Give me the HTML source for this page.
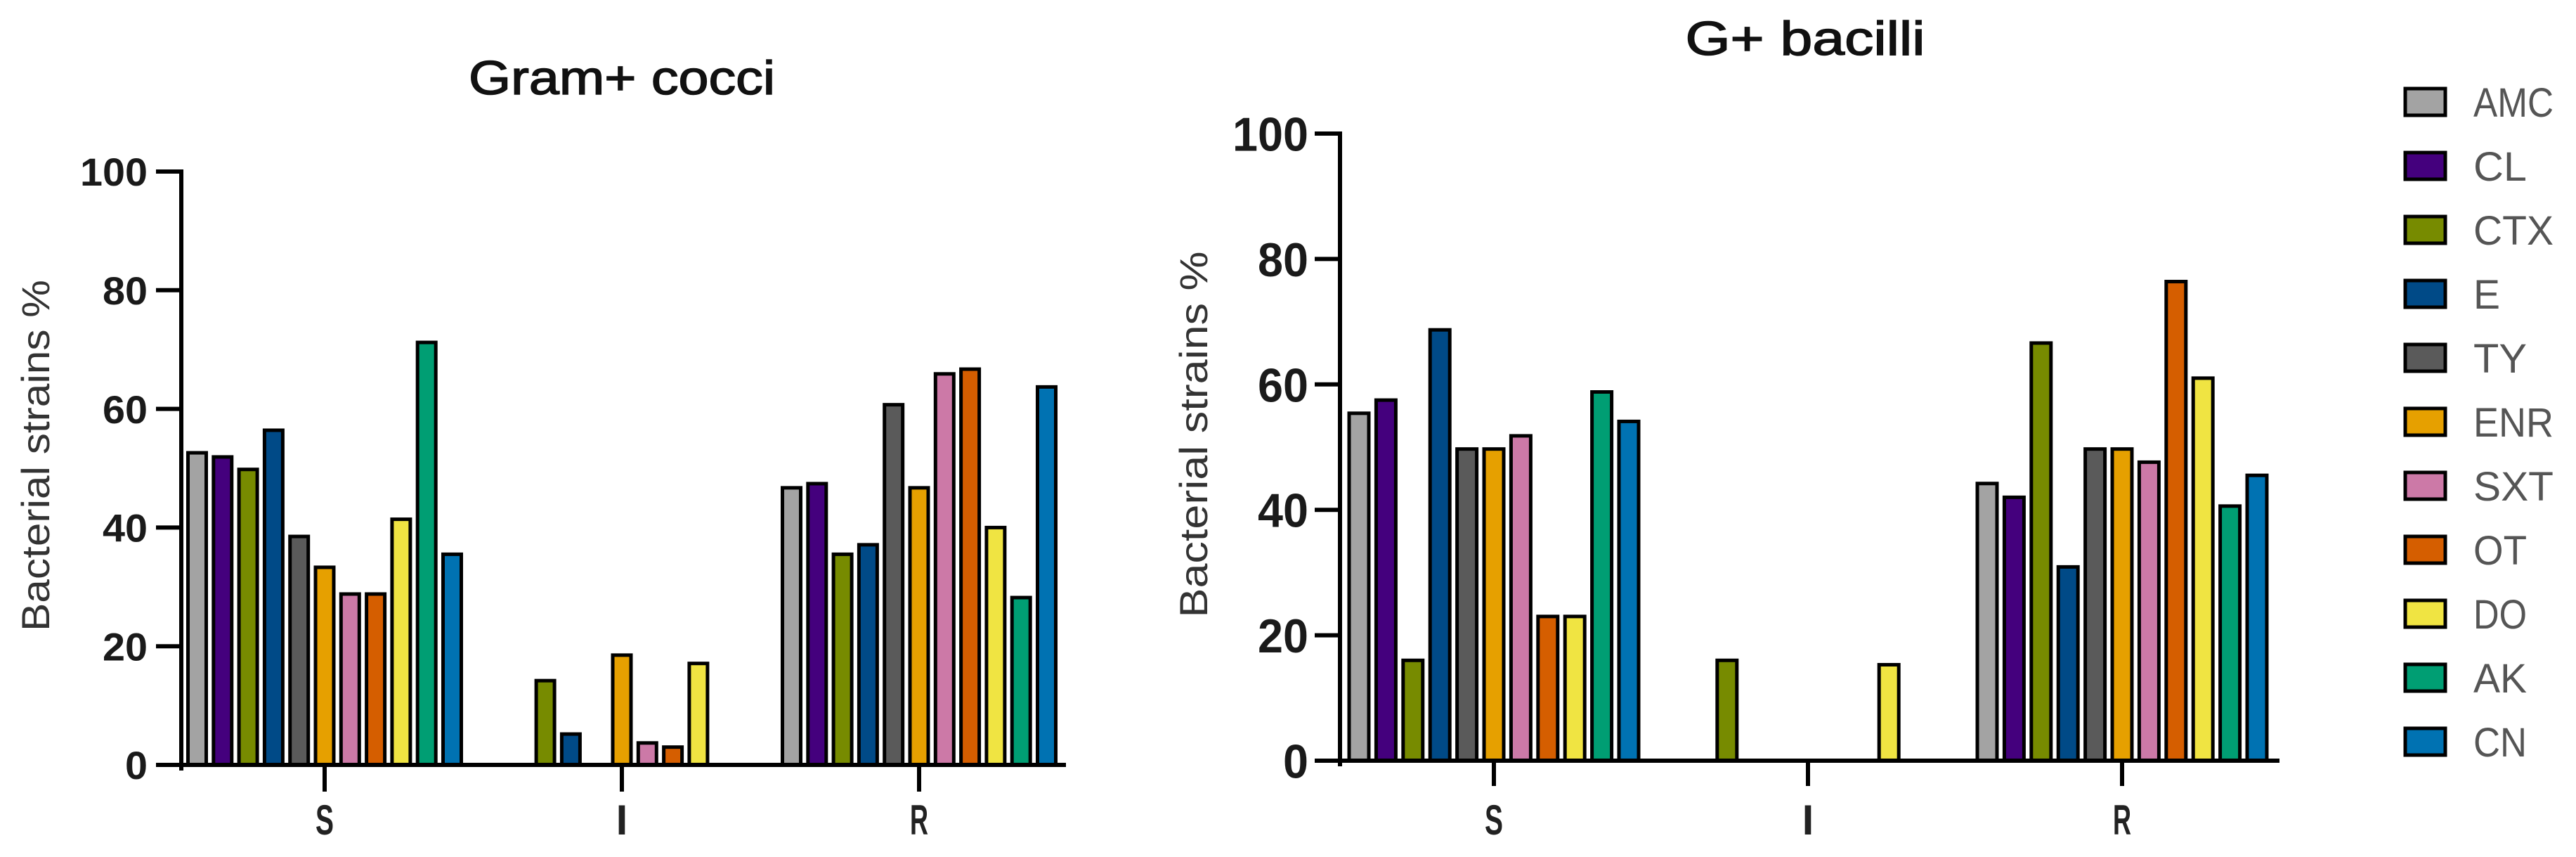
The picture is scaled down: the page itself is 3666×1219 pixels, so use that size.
<!DOCTYPE html>
<html><head><meta charset="utf-8"><style>html,body{margin:0;padding:0;background:#fff}svg{display:block}</style></head>
<body>
<svg id="chart" width="3666" height="1219" viewBox="0 0 3666 1219" xmlns="http://www.w3.org/2000/svg" font-family="Liberation Sans, Arial, sans-serif"></svg>
<script>
const categories = ["S", "I", "R"];
const antibiotics = ["AMC","CL","CTX","E","TY","ENR","SXT","OT","DO","AK","CN"];
const colors = ["#a3a3a3","#44007d","#778b00","#004a87","#5a5a5a","#e6a000","#cc79a7","#d55e00","#f0e442","#009e73","#0072b2"];
const yTicks = [0, 20, 40, 60, 80, 100];
// Gram+ cocci values per antibiotic: [S, I, R]
const cocciS = [52.6, 51.9, 49.8, 56.4, 38.5, 33.3, 28.8, 28.8, 41.4, 71.2, 35.5];
const cocciI = [0, 0, 14.2, 5.2, 0, 18.5, 3.7, 3.0, 17.1, 0, 0];
const cocciR = [46.7, 47.4, 35.5, 37.1, 60.7, 46.7, 65.9, 66.7, 40.0, 28.2, 63.7];
// G+ bacilli
const bacilliS = [55.4, 57.5, 16.0, 68.7, 49.7, 49.7, 51.8, 23.0, 23.0, 58.8, 54.1];
const bacilliI = [0, 0, 16.0, 0, 0, 0, 0, 0, 15.3, 0, 0];
const bacilliR = [44.2, 42.0, 66.6, 30.9, 49.7, 49.7, 47.6, 76.4, 61.0, 40.6, 45.5];

const NS = "http://www.w3.org/2000/svg";
const svg = document.getElementById('chart');
function mk(tag, attrs, parent) {
  const e = document.createElementNS(NS, tag);
  for (const k in attrs) e.setAttribute(k, attrs[k]);
  (parent || svg).appendChild(e);
  return e;
}

function drawChart(cfg, series) {
  const g = mk('g', {});
  
  
  const y = v => cfg.y0 - (cfg.y0 - cfg.y100) * v / 100;
  const xc = i => cfg.cx0 + i * cfg.groupStep;
  const t = mk('text', {x: cfg.titleX, y: cfg.titleY, 'font-size': 68, 'text-anchor': 'middle', fill: '#111', stroke: '#111', 'stroke-width': 1.5, textLength: cfg.titleLen, lengthAdjust: 'spacingAndGlyphs'}, g);
  t.textContent = cfg.title;
  
  
  const yt = mk('text', {x: 0, y: 0, 'font-size': 56, 'text-anchor': 'middle', fill: '#333', textLength: cfg.yTitleLen, lengthAdjust: 'spacingAndGlyphs', transform: `translate(${cfg.yTitleX},${cfg.yTitleY}) rotate(-90)`}, g);
  yt.textContent = 'Bacterial strains %';
  
  
  series.forEach((vals, ci) => {
    vals.forEach((v, ai) => {
      if (v <= 0) return;
      const cx = xc(ci) + (ai - 5) * cfg.barStep;
      const top = y(v);
      const r = mk('rect', {x: cx - cfg.barW / 2, y: top, width: cfg.barW, height: cfg.y0 - top, fill: colors[ai], stroke: '#000', 'stroke-width': 5}, g);
      
      
    });
  });
  const ya = mk('line', {x1: cfg.axX, y1: y(100) - 3, x2: cfg.axX, y2: cfg.y0 + 8, stroke: '#000', 'stroke-width': 6}, g);
  
  
  yTicks.forEach(v => {
    const tk = mk('line', {x1: cfg.axX - 36, y1: y(v), x2: cfg.axX, y2: y(v), stroke: '#000', 'stroke-width': 6}, g);
    
    
    const s = String(v);
    const lb = mk('text', {x: cfg.tickLabelX, y: y(v) + cfg.tickFont * 0.36, 'font-size': cfg.tickFont, 'font-weight': 'bold', 'text-anchor': 'end', fill: '#1a1a1a', textLength: cfg.digitW * s.length, lengthAdjust: 'spacingAndGlyphs'}, g);
    lb.textContent = s;
    
    
  });
  const xa = mk('line', {x1: cfg.axX - 36, y1: cfg.y0, x2: cfg.xEnd, y2: cfg.y0, stroke: '#000', 'stroke-width': 6}, g);
  
  
  categories.forEach((c, i) => {
    const tk = mk('line', {x1: xc(i), y1: cfg.y0, x2: xc(i), y2: cfg.tickBottom, stroke: '#000', 'stroke-width': 6}, g);
    
    
    const lb = mk('text', {x: xc(i), y: 1187, 'font-size': 60, 'font-weight': 'bold', 'text-anchor': 'middle', fill: '#222'}, g);
    if (c !== 'I') { lb.setAttribute('textLength', 26); lb.setAttribute('lengthAdjust', 'spacingAndGlyphs'); }
    lb.textContent = c;
    
    
  });
}

drawChart({name: 'gram-positive-cocci-chart', title: 'Gram+ cocci', titleX: 885, titleY: 134, titleLen: 436,
  yTitleX: 70, yTitleY: 648, yTitleLen: 500,
  y0: 1088, y100: 244, axX: 258, xEnd: 1517, cx0: 462, groupStep: 423, barStep: 36.3, barW: 26,
  tickLabelX: 210, tickFont: 56, digitW: 32, tickBottom: 1126}, [cocciS, cocciI, cocciR]);

drawChart({name: 'gram-positive-bacilli-chart', title: 'G+ bacilli', titleX: 2569, titleY: 78, titleLen: 341,
  yTitleX: 1718, yTitleY: 618, yTitleLen: 521,
  y0: 1082, y100: 190, axX: 1907, xEnd: 3244, cx0: 2126, groupStep: 447, barStep: 38.4, barW: 28,
  tickLabelX: 1862, tickFont: 68, digitW: 36, tickBottom: 1118}, [bacilliS, bacilliI, bacilliR]);

const lg = mk('g', {});


antibiotics.forEach((a, i) => {
  const cy = 145 + i * 91;
  const r = mk('rect', {x: 3423, y: cy - 19, width: 57, height: 38, fill: colors[i], stroke: '#000', 'stroke-width': 5}, lg);
  
  
  const t = mk('text', {x: 3520, y: cy + 21, 'font-size': 58, fill: '#555', textLength: a.length * 38, lengthAdjust: 'spacingAndGlyphs'}, lg);
  t.textContent = a;
  
  
});
</script>
</body></html>
